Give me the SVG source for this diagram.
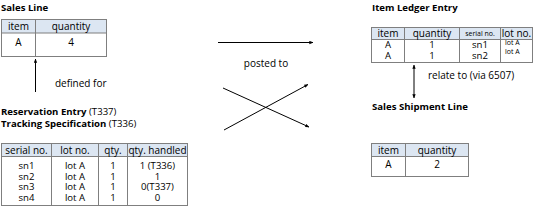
<svg xmlns="http://www.w3.org/2000/svg" width="534" height="209" viewBox="0 0 534 209">
<defs>
<marker id="ah" viewBox="0 0 6 6" refX="5.5" refY="3" markerWidth="4" markerHeight="4" orient="auto-start-reverse" markerUnits="userSpaceOnUse">
<path d="M0,0.5 L6,3 L0,5.5 Z" fill="#000"/>
</marker>
<style>
text{font-family:"Open Sans","DejaVu Sans",sans-serif;font-size:10px;fill:#000}
.t{font-weight:bold;font-size:9.6px}
.n{font-weight:normal}
.c{text-anchor:middle}
.r{font-size:9.6px}
.s{font-size:7px}
.hd{fill:#dce6f2;stroke:none}
.bx{fill:#fff;stroke:#7f7f7f;stroke-width:1}
.ln{stroke:#7f7f7f;stroke-width:1}
.ar{stroke:#000;stroke-width:1;fill:none}
</style>
</defs>

<g id="sales-line">
<text class="t" x="1" y="11">Sales Line</text>
<rect class="bx" x="1.5" y="19.5" width="105" height="37"/>
<rect class="hd" x="2" y="20" width="104" height="13"/>
<line class="ln" x1="1.5" y1="33" x2="106.5" y2="33"/>
<line class="ln" x1="35.5" y1="19.5" x2="35.5" y2="56.5"/>
<text class="c" x="18.5" y="29.5">item</text>
<text class="c" x="71" y="29.5">quantity</text>
<text class="c" x="18.5" y="46">A</text>
<text class="c" x="71" y="46">4</text>
</g>

<g id="reservation-entry">
<text class="t" x="1" y="114.5">Reservation Entry <tspan class="n">(T337)</tspan></text>
<text class="t" x="1" y="126.5">Tracking Specification <tspan class="n">(T336)</tspan></text>
<rect class="bx" x="1.5" y="143.5" width="186" height="62"/>
<rect class="hd" x="2" y="144" width="185" height="12"/>
<line class="ln" x1="1.5" y1="156.5" x2="187.5" y2="156.5"/>
<line class="ln" x1="51.5" y1="143.5" x2="51.5" y2="205.5"/>
<line class="ln" x1="98.5" y1="143.5" x2="98.5" y2="205.5"/>
<line class="ln" x1="127.5" y1="143.5" x2="127.5" y2="205.5"/>
<text class="c" x="26.5" y="153.5">serial no.</text>
<text class="c" x="75" y="153.5">lot no.</text>
<text class="c" x="113" y="153.5">qty.</text>
<text class="c" x="157.5" y="153.5">qty. handled</text>
<g class="r">
<text class="c r" x="26.5" y="169">sn1</text>
<text class="c r" x="75" y="169">lot A</text>
<text class="c r" x="113" y="169">1</text>
<text class="c r" x="157.5" y="169">1 (T336)</text>
<text class="c r" x="26.5" y="179.5">sn2</text>
<text class="c r" x="75" y="179.5">lot A</text>
<text class="c r" x="113" y="179.5">1</text>
<text class="c r" x="157.5" y="179.5">1</text>
<text class="c r" x="26.5" y="190">sn3</text>
<text class="c r" x="75" y="190">lot A</text>
<text class="c r" x="113" y="190">1</text>
<text class="c r" x="157.5" y="190">0(T337)</text>
<text class="c r" x="26.5" y="200.5">sn4</text>
<text class="c r" x="75" y="200.5">lot A</text>
<text class="c r" x="113" y="200.5">1</text>
<text class="c r" x="157.5" y="200.5">0</text>
</g>
</g>

<g id="item-ledger-entry">
<text class="t" x="372" y="11">Item Ledger Entry</text>
<rect class="bx" x="371.5" y="27.5" width="161" height="35"/>
<rect class="hd" x="372" y="28" width="160" height="11"/>
<line class="ln" x1="371.5" y1="39.5" x2="532.5" y2="39.5"/>
<line class="ln" x1="404.5" y1="27.5" x2="404.5" y2="62.5"/>
<line class="ln" x1="459.5" y1="27.5" x2="459.5" y2="62.5"/>
<line class="ln" x1="500.5" y1="27.5" x2="500.5" y2="62.5"/>
<text class="c" x="388" y="36.5">item</text>
<text class="c" x="432" y="36.5">quantity</text>
<text class="c s" x="480" y="36">serial no.</text>
<text class="c" x="516.5" y="36.5">lot no.</text>
<text class="c r" x="388" y="48">A</text>
<text class="c r" x="432" y="48">1</text>
<text class="c r" x="480" y="48">sn1</text>
<text class="s" x="505" y="45">lot A</text>
<text class="c r" x="388" y="59">A</text>
<text class="c r" x="432" y="59">1</text>
<text class="c r" x="480" y="59">sn2</text>
<text class="s" x="505" y="54">lot A</text>
</g>

<g id="sales-shipment-line">
<text class="t" x="372" y="110">Sales Shipment Line</text>
<rect class="bx" x="371.5" y="143.5" width="97" height="33"/>
<rect class="hd" x="372" y="144" width="96" height="12"/>
<line class="ln" x1="371.5" y1="156.5" x2="468.5" y2="156.5"/>
<line class="ln" x1="405.5" y1="143.5" x2="405.5" y2="176.5"/>
<text class="c" x="388.5" y="153.5">item</text>
<text class="c" x="437" y="153.5">quantity</text>
<text class="c" x="388.5" y="168">A</text>
<text class="c" x="437" y="168">2</text>
</g>

<g id="connectors">
<line class="ar" x1="35.5" y1="92" x2="35.5" y2="59" marker-end="url(#ah)"/>
<text x="55" y="87">defined for</text>
<line class="ar" x1="218" y1="42.5" x2="313" y2="42.5" marker-end="url(#ah)"/>
<text class="c" x="266" y="67">posted to</text>
<line class="ar" x1="223" y1="88" x2="309" y2="127" marker-end="url(#ah)"/>
<line class="ar" x1="224" y1="130" x2="308" y2="84.5" marker-end="url(#ah)"/>
<line class="ar" x1="414" y1="65" x2="414" y2="98" marker-start="url(#ah)" marker-end="url(#ah)"/>
<text x="428" y="79">relate to (via 6507)</text>
</g>
</svg>
